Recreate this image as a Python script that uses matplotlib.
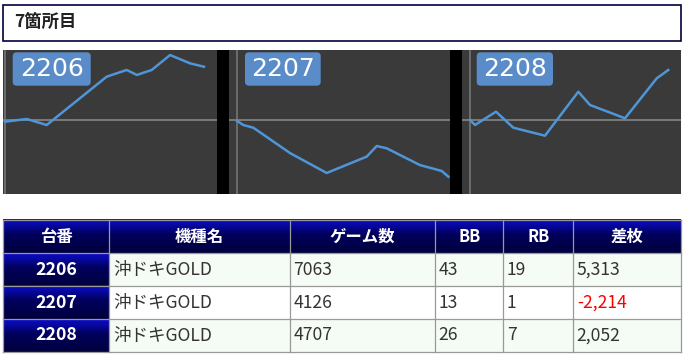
import numpy as np
import matplotlib
matplotlib.use("Agg")
import matplotlib.pyplot as plt
from matplotlib.patches import Rectangle, FancyBboxPatch

plt.rcParams['font.family'] = ['Noto Sans CJK JP', 'DejaVu Sans']

W, H = 686, 357

title = "7箇所目"

# slump graphs: (games played, coin difference)
units = ["2206", "2207", "2208"]
games_1 = [0, 770, 1480, 3610, 4320, 4680, 5210, 5860, 6570, 7063]
coins_1 = [-170, 100, -500, 4320, 4990, 4490, 4990, 6480, 5650, 5313]
games_2 = [0, 117, 313, 1030, 1748, 2530, 2726, 2921, 3570, 3995, 4126]
coins_2 = [-40, -195, -300, -1290, -2070, -1430, -1015, -1105, -1760, -1990, -2214]
games_3 = [0, 119, 617, 1028, 1780, 2571, 2849, 3680, 4432, 4707]
coins_3 = [0, -205, 340, -316, -644, 1160, 616, 70, 1710, 2052]

# table
headers = ["台番", "機種名", "ゲーム数", "BB", "RB", "差枚"]
models = ["沖ドキGOLD", "沖ドキGOLD", "沖ドキGOLD"]
total_games = [7063, 4126, 4707]
bb = [43, 13, 26]
rb = [19, 1, 7]
diff = [5313, -2214, 2052]

fig = plt.figure(figsize=(W / 100, H / 100), dpi=100)


def px_axes(x0, y0, x1, y1, **kw):
    return fig.add_axes([x0 / W, 1 - y1 / H, (x1 - x0) / W, (y1 - y0) / H], **kw)


# black strip behind the three graphs
strip = px_axes(3, 50, 681, 194)
strip.set_facecolor("black")
strip.set_xticks([]); strip.set_yticks([])
for s in strip.spines.values():
    s.set_visible(False)

panels = [
    (3, 217.3, (-71, 7537), (-7380, 6980), games_1, coins_1),
    (229.3, 450, (-156, 4158), (-2890, 2734), games_2, coins_2),
    (461.7, 681, (-197, 5009), (-3037, 2873), games_3, coins_3),
]
for x0, x1, xl, yl, g, c in panels:
    ax = px_axes(x0, 50, x1, 194)
    ax.set_facecolor("#3a3a3a")
    ax.axhline(0, color="#8c8c8c", lw=1.1)
    ax.axvline(0, color="#7a7a7a", lw=1.1)
    ax.plot(g, c, color="#4f95d8", lw=1.8, solid_joinstyle="round")
    ax.set_xlim(*xl)
    ax.set_ylim(*yl)
    ax.set_xticks([]); ax.set_yticks([])
    for s in ax.spines.values():
        s.set_visible(False)

# overlay for title, labels and table
ov = fig.add_axes([0, 0, 1, 1], zorder=5)
ov.patch.set_alpha(0)
ov.axis("off")

ov.add_patch(Rectangle((3.3, 5), 677.4, 36.3, facecolor="white",
                       edgecolor="#000040", lw=1.2))
ov.text(14, 22, title, fontsize=12.5, fontweight="bold", color="#222222",
        ha="left", va="center")

for lx0, lx1, name in [(12.7, 90.7, units[0]), (245, 320.7, units[1]),
                       (476.7, 553, units[2])]:
    ov.add_patch(FancyBboxPatch((lx0 + 4, 52.3 + 4), lx1 - lx0 - 8, 33.4 - 8,
                                boxstyle="round,pad=4", facecolor="#5a8cc9",
                                edgecolor="none"))
    ov.text((lx0 + lx1) / 2, 69.5, name, fontsize=18, color="white",
            family="DejaVu Sans", ha="center", va="center")

# table geometry
cols = [3.3, 109.3, 290, 435, 503.3, 573.3, 680.7]
rows = [220, 253.3, 286, 319.3, 351.7]

stops = np.array([[0.05, 0.05, 0.80], [0.0, 0.0, 0.36], [0.0, 0.0, 0.24]])
t = np.linspace(0, 1, 64)
grad = np.stack([np.interp(t, [0, 0.45, 1], stops[:, k]) for k in range(3)], axis=-1)
grad = grad[:, None, :]


def navy_cell(x0, x1, y0, y1):
    ov.imshow(grad, extent=(x0, x1, y1, y0), aspect="auto", origin="upper",
              interpolation="bilinear", zorder=1)


for i in range(6):
    navy_cell(cols[i], cols[i + 1], rows[0], rows[1])
    ov.text((cols[i] + cols[i + 1]) / 2, (rows[0] + rows[1]) / 2, headers[i],
            fontsize=11.8, fontweight="bold", color="white", ha="center",
            va="center", zorder=3)

for r in range(3):
    y0, y1 = rows[r + 1], rows[r + 2]
    yc = (y0 + y1) / 2
    navy_cell(cols[0], cols[1], y0, y1)
    ov.text((cols[0] + cols[1]) / 2, yc, units[r], fontsize=12.8,
            fontweight="bold", color="white", ha="center", va="center", zorder=3)
    bg = "#f5fbf5" if r != 1 else "#ffffff"
    ov.add_patch(Rectangle((cols[1], y0), cols[6] - cols[1], y1 - y0,
                           facecolor=bg, edgecolor="none", zorder=1))
    vals = [models[r], str(total_games[r]), str(bb[r]), str(rb[r]),
            f"{diff[r]:,}"]
    for j, v in enumerate(vals):
        color = "red" if (j == 4 and diff[r] < 0) else "#333333"
        ov.text(cols[j + 1] + 3.5, yc, v, fontsize=12.6, color=color,
                ha="left", va="center", zorder=3)

# grid lines
for x in cols:
    ov.plot([x, x], [rows[0], rows[-1]], color="#999999", lw=0.9, zorder=2)
for y in rows:
    ov.plot([cols[0], cols[-1]], [y, y], color="#999999", lw=0.9, zorder=2)

ov.set_xlim(0, W)
ov.set_ylim(H, 0)

fig.savefig("out.png", dpi=100)
